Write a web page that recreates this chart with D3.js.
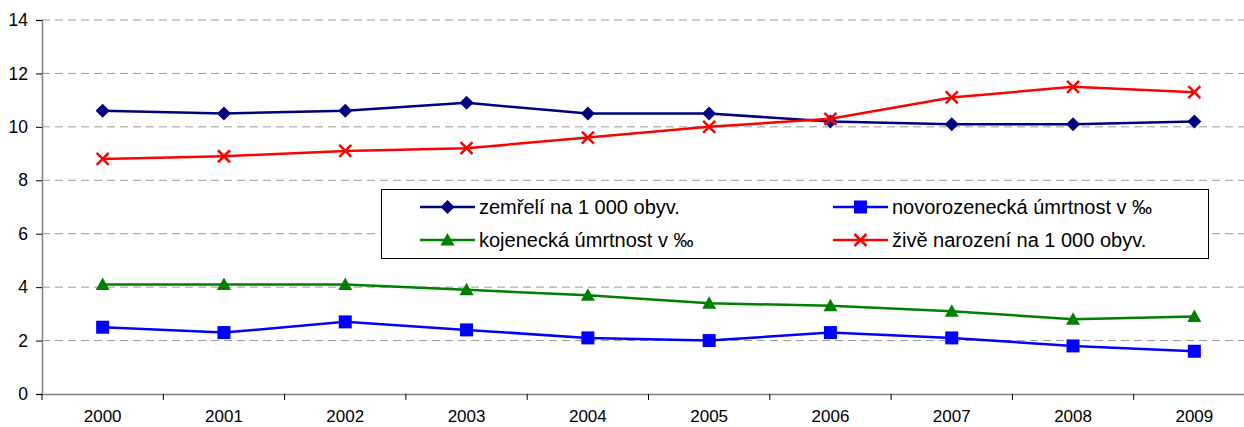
<!DOCTYPE html>
<html>
<head>
<meta charset="utf-8">
<script src="https://cdn.jsdelivr.net/npm/d3@7.9.0/dist/d3.min.js"></script>
<style>
  body { margin: 0; background: #fff; }
  svg text { font-family: "Liberation Sans", Arial, sans-serif; fill: #000; }
</style>
</head>
<body>
<svg id="chart" width="1244" height="427"></svg>
<script>
// chart data
const years = ['2000', '2001', '2002', '2003', '2004', '2005', '2006', '2007', '2008', '2009'];
const zemreli = [10.6, 10.5, 10.6, 10.9, 10.5, 10.5, 10.2, 10.1, 10.1, 10.2];
const novorozenecka = [2.5, 2.3, 2.7, 2.4, 2.1, 2.0, 2.3, 2.1, 1.8, 1.6];
const kojenecka = [4.1, 4.1, 4.1, 3.9, 3.7, 3.4, 3.3, 3.1, 2.8, 2.9];
const narozeni = [8.8, 8.9, 9.1, 9.2, 9.6, 10.0, 10.3, 11.1, 11.5, 11.3];
const yTicks = [0, 2, 4, 6, 8, 10, 12, 14];

const series = [
  { name: 'zemřelí na 1 000 obyv.', values: zemreli, color: '#000080', marker: 'diamond' },
  { name: 'novorozenecká úmrtnost v ‰', values: novorozenecka, color: '#0000FF', marker: 'square' },
  { name: 'kojenecká úmrtnost v ‰', values: kojenecka, color: '#008000', marker: 'triangle' },
  { name: 'živě narození na 1 000 obyv.', values: narozeni, color: '#FF0000', marker: 'cross' }
];

const svg = d3.select('#chart');
const plotLeft = 42, plotRight = 1255, plotTop = 20, plotBottom = 394;

const x = d3.scaleBand().domain(years).range([plotLeft, plotRight]);
const y = d3.scaleLinear().domain([0, 14]).range([plotBottom, plotTop]);

// gridlines
svg.append('g')
  .selectAll('line')
  .data(yTicks.filter(d => d > 0))
  .join('line')
  .attr('x1', plotLeft).attr('x2', 1244)
  .attr('y1', d => y(d)).attr('y2', d => y(d))
  .attr('stroke', '#999').attr('stroke-width', 1)
  .attr('stroke-dasharray', '8,5');

// y axis
const yAxis = svg.append('g')
  .attr('transform', `translate(${plotLeft},0)`)
  .call(d3.axisLeft(y).tickValues(yTicks).tickSize(6).tickPadding(8));
yAxis.select('.domain').attr('stroke', '#808080').attr('stroke-width', 1.5);
yAxis.selectAll('.tick line').attr('stroke', '#000');
yAxis.selectAll('.tick text').style('font-size', '17.5px');

// x axis, ticks on band boundaries
const xAxis = svg.append('g')
  .attr('transform', `translate(0,${plotBottom})`)
  .call(d3.axisBottom(x).tickSize(0).tickPadding(16));
xAxis.select('.domain').attr('stroke', '#808080').attr('stroke-width', 1.5);
xAxis.selectAll('.tick text').style('font-size', '17px');
svg.append('g')
  .selectAll('line')
  .data(years)
  .join('line')
  .attr('x1', d => x(d)).attr('x2', d => x(d))
  .attr('y1', plotBottom).attr('y2', plotBottom + 6)
  .attr('stroke', '#000');

const cx = d => x(d) + x.bandwidth() / 2;

function drawMarker(g, type, color) {
  if (type === 'diamond') {
    g.append('path').attr('d', 'M0,-7L7,0L0,7L-7,0Z').attr('fill', color);
  } else if (type === 'square') {
    g.append('rect').attr('x', -6.5).attr('y', -6.5).attr('width', 13).attr('height', 13).attr('fill', color);
  } else if (type === 'triangle') {
    g.append('path').attr('d', 'M0,-7L7,5.5L-7,5.5Z').attr('fill', color);
  } else {
    g.append('path').attr('d', 'M-6,-6L6,6M-6,6L6,-6').attr('stroke', color).attr('stroke-width', 2.5).attr('fill', 'none');
  }
}

const line = d3.line().x((d, i) => cx(years[i])).y(d => y(d));

series.forEach(s => {
  svg.append('path')
    .datum(s.values)
    .attr('d', line)
    .attr('fill', 'none')
    .attr('stroke', s.color)
    .attr('stroke-width', 2.5);
  s.values.forEach((v, i) => {
    const g = svg.append('g').attr('transform', `translate(${cx(years[i])},${y(v)})`);
    drawMarker(g, s.marker, s.color);
  });
});

// legend
const legend = svg.append('g');
legend.append('rect')
  .attr('x', 381.5).attr('y', 189.5).attr('width', 827).attr('height', 69)
  .attr('fill', '#fff').attr('stroke', '#000').attr('stroke-width', 1);
const legendPos = [[420, 207], [833, 207], [420, 240], [833, 240]];
series.forEach((s, i) => {
  const [lx, ly] = legendPos[i];
  const g = legend.append('g');
  g.append('line').attr('x1', lx).attr('x2', lx + 55).attr('y1', ly).attr('y2', ly)
    .attr('stroke', s.color).attr('stroke-width', 2.5);
  const m = g.append('g').attr('transform', `translate(${lx + 27.5},${ly})`);
  drawMarker(m, s.marker, s.color);
  g.append('text').attr('x', lx + 59).attr('y', ly).attr('dy', '0.36em')
    .style('font-size', '20px').text(s.name);
});
</script>
</body>
</html>
